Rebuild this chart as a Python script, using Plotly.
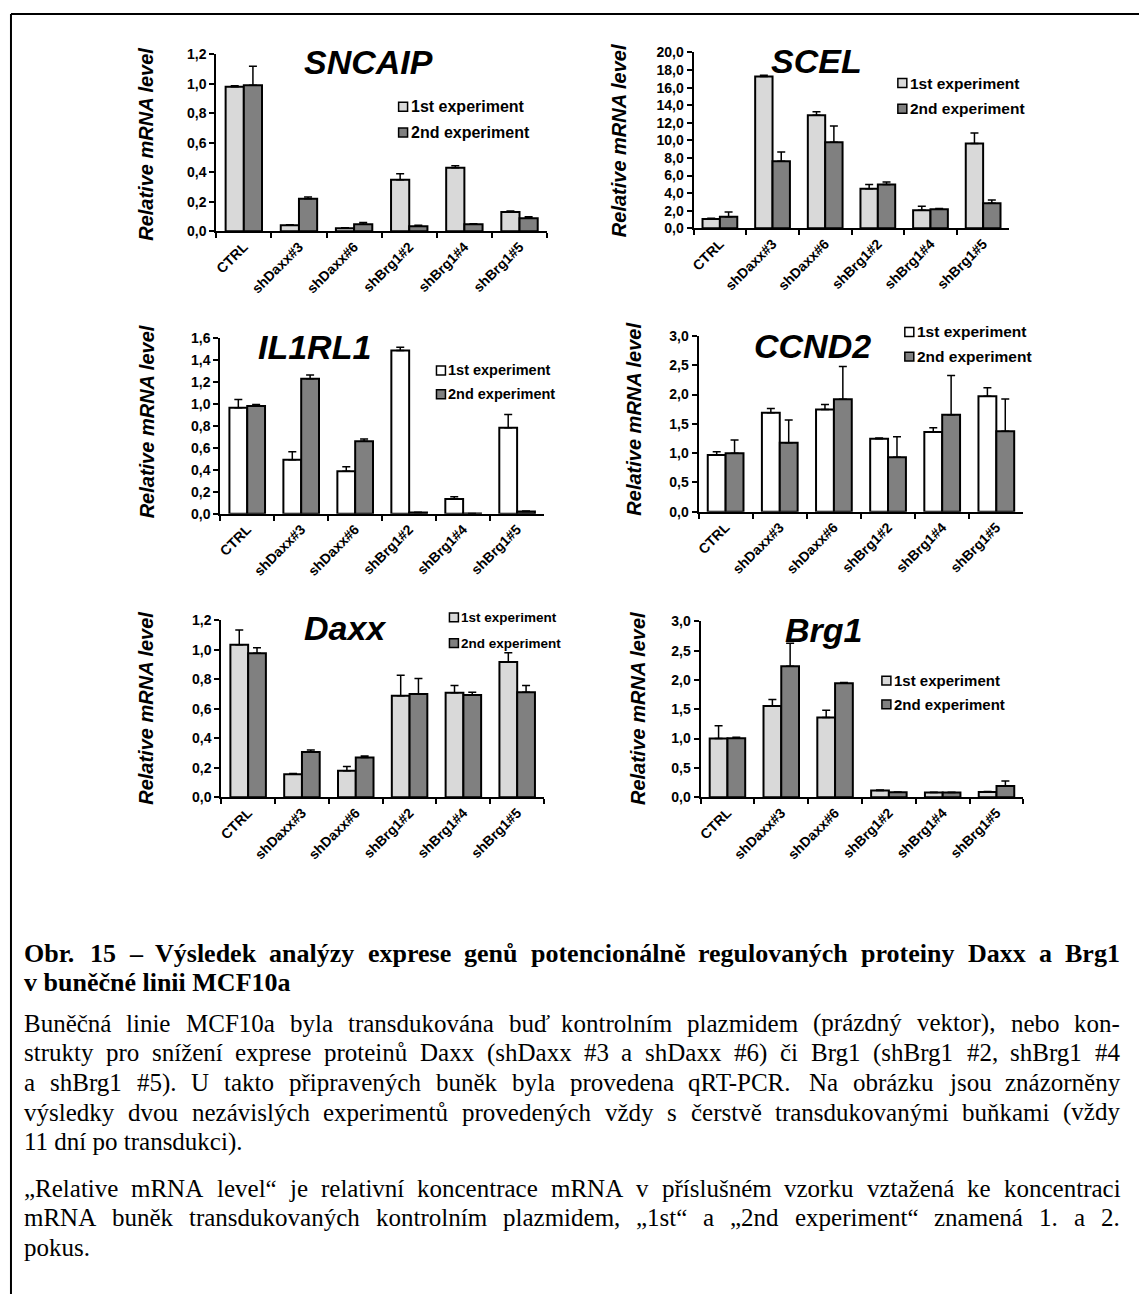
import unicodedata
import plotly.graph_objects as go

W, H = 1139, 1302

categories = ["CTRL", "shDaxx#3", "shDaxx#6", "shBrg1#2", "shBrg1#4", "shBrg1#5"]
series_names = ["1st experiment", "2nd experiment"]

# Relative mRNA levels (mean) and upper error per gene and experiment
sncaip_exp1 = [0.98, 0.04, 0.02, 0.35, 0.43, 0.13]
sncaip_exp1_err = [0.008, 0.004, 0.003, 0.04, 0.015, 0.008]
sncaip_exp2 = [0.99, 0.22, 0.047, 0.034, 0.047, 0.088]
sncaip_exp2_err = [0.13, 0.012, 0.012, 0.006, 0.003, 0.01]

scel_exp1 = [1.05, 17.27, 12.86, 4.49, 2.06, 9.64]
scel_exp1_err = [0.08, 0.15, 0.4, 0.5, 0.45, 1.2]
scel_exp2 = [1.3, 7.63, 9.79, 4.97, 2.17, 2.84]
scel_exp2_err = [0.55, 1.05, 1.85, 0.28, 0.08, 0.38]

il1rl1_exp1 = [0.965, 0.49, 0.387, 1.486, 0.135, 0.782]
il1rl1_exp1_err = [0.075, 0.075, 0.04, 0.03, 0.02, 0.12]
il1rl1_exp2 = [0.98, 1.228, 0.659, 0.012, 0.002, 0.02]
il1rl1_exp2_err = [0.015, 0.035, 0.02, 0.002, 0.0, 0.004]

ccnd2_exp1 = [0.968, 1.69, 1.745, 1.244, 1.362, 1.97]
ccnd2_exp1_err = [0.055, 0.07, 0.085, 0.015, 0.07, 0.145]
ccnd2_exp2 = [1.0, 1.176, 1.92, 0.929, 1.655, 1.373]
ccnd2_exp2_err = [0.225, 0.39, 0.56, 0.35, 0.67, 0.55]

daxx_exp1 = [1.035, 0.156, 0.179, 0.688, 0.708, 0.918]
daxx_exp1_err = [0.1, 0.005, 0.03, 0.14, 0.05, 0.063]
daxx_exp2 = [0.977, 0.306, 0.27, 0.7, 0.693, 0.713]
daxx_exp2_err = [0.038, 0.015, 0.01, 0.105, 0.02, 0.045]

brg1_exp1 = [1.0, 1.556, 1.36, 0.112, 0.079, 0.09]
brg1_exp1_err = [0.22, 0.11, 0.125, 0.01, 0.005, 0.005]
brg1_exp2 = [1.006, 2.236, 1.944, 0.084, 0.079, 0.19]
brg1_exp2_err = [0.015, 0.39, 0.015, 0.005, 0.005, 0.085]

y_axis_title = "Relative mRNA level"

caption_heading = [
    "Obr. 15 – Výsledek analýzy exprese genů potencionálně regulovaných proteiny Daxx a Brg1",
    "v buněčné linii MCF10a",
]
caption_body = [
    "Buněčná linie MCF10a byla transdukována buď kontrolním plazmidem (prázdný vektor), nebo kon-",
    "strukty pro snížení exprese proteinů Daxx (shDaxx #3 a shDaxx #6) či Brg1 (shBrg1 #2, shBrg1 #4",
    "a shBrg1 #5). U takto připravených buněk byla provedena qRT-PCR. Na obrázku jsou znázorněny",
    "výsledky dvou nezávislých experimentů provedených vždy s čerstvě transdukovanými buňkami (vždy",
    "11 dní po transdukci).",
]
caption_note = [
    "„Relative mRNA level“ je relativní koncentrace mRNA v příslušném vzorku vztažená ke koncentraci",
    "mRNA buněk transdukovaných kontrolním plazmidem, „1st“ a „2nd experiment“ znamená 1. a 2.",
    "pokus.",
]

LIGHT = "#d9d9d9"
DARK = "#808080"
WHITE = "#ffffff"
SANS = "Liberation Sans, Arial, sans-serif"
SERIF = "Liberation Serif, Times New Roman, serif"

# Times advance widths (1/1000 em) used to set justified caption lines
_upper_reg = dict(zip("ABCDEFGHIJKLMNOPQRSTUVWXYZ",
                      [722, 667, 667, 722, 611, 556, 722, 722, 333, 389, 722, 611, 889,
                       722, 722, 556, 722, 667, 556, 611, 722, 722, 944, 722, 722, 611]))
_lower_reg = dict(zip("abcdefghijklmnopqrstuvwxyz",
                      [444, 500, 444, 500, 444, 333, 500, 500, 278, 278, 500, 278, 778,
                       500, 500, 500, 500, 333, 389, 278, 500, 500, 722, 500, 500, 444]))
_upper_bold = dict(zip("ABCDEFGHIJKLMNOPQRSTUVWXYZ",
                       [722, 667, 722, 722, 667, 611, 778, 778, 389, 500, 778, 667, 944,
                        722, 778, 611, 778, 722, 556, 667, 722, 722, 1000, 722, 722, 667]))
_lower_bold = dict(zip("abcdefghijklmnopqrstuvwxyz",
                       [500, 556, 444, 556, 444, 333, 500, 556, 278, 333, 556, 278, 833,
                        556, 500, 556, 556, 444, 389, 333, 556, 500, 722, 500, 500, 444]))
_punct = {" ": 250, "#": 500, "(": 333, ")": 333, ",": 250, "-": 333, ".": 250,
          "–": 500, "„": 444, "“": 444, ":": 278}
TIMES_REG = {**_upper_reg, **_lower_reg, **_punct, **{d: 500 for d in "0123456789"}}
TIMES_BOLD = {**_upper_bold, **_lower_bold, **_punct, **{d: 500 for d in "0123456789"}}


def text_width(s, table, size):
    total = 0
    for ch in s:
        base = unicodedata.normalize("NFD", ch)[0]
        total += table.get(ch, table.get(base, 500))
    return total * size / 1000


def fx(x):
    return x / W


def fy(y):
    return 1 - y / H


# panel geometry in page pixels: plot box (left, right, top, bottom),
# gene title centre, y-title centre, legend swatch left / row centres / font size
panels = [
    dict(gene="SNCAIP", vals=[sncaip_exp1, sncaip_exp2], errs=[sncaip_exp1_err, sncaip_exp2_err],
         ymax=1.2, dtick=0.2, fill1=LIGHT, box=(213, 545, 47, 226),
         title=(366, 55), ytitle=(143, 138), legend=(396, 100, 126, 16)),
    dict(gene="SCEL", vals=[scel_exp1, scel_exp2], errs=[scel_exp1_err, scel_exp2_err],
         ymax=20, dtick=2, fill1=LIGHT, box=(692, 1009, 45, 223),
         title=(815, 54), ytitle=(618, 134), legend=(897, 76, 102, 15.5)),
    dict(gene="IL1RL1", vals=[il1rl1_exp1, il1rl1_exp2], errs=[il1rl1_exp1_err, il1rl1_exp2_err],
         ymax=1.6, dtick=0.2, fill1=WHITE, box=(217, 542, 334, 512),
         title=(312, 343), ytitle=(143, 419), legend=(434, 367, 391, 14.5)),
    dict(gene="CCND2", vals=[ccnd2_exp1, ccnd2_exp2], errs=[ccnd2_exp1_err, ccnd2_exp2_err],
         ymax=3.0, dtick=0.5, fill1=WHITE, box=(697, 1023, 332, 510),
         title=(811, 342), ytitle=(632, 416), legend=(904, 328, 353, 15.5)),
    dict(gene="Daxx", vals=[daxx_exp1, daxx_exp2], errs=[daxx_exp1_err, daxx_exp2_err],
         ymax=1.2, dtick=0.2, fill1=LIGHT, box=(218, 542, 620, 799),
         title=(343, 628), ytitle=(143, 709), legend=(447, 617, 643, 13.5)),
    dict(gene="Brg1", vals=[brg1_exp1, brg1_exp2], errs=[brg1_exp1_err, brg1_exp2_err],
         ymax=3.0, dtick=0.5, fill1=LIGHT, box=(699, 1023, 621, 799),
         title=(822, 630), ytitle=(637, 709), legend=(881, 681, 705, 15)),
]

fig = go.Figure()
annotations = []
shapes = []

for i, p in enumerate(panels, start=1):
    xa = "x" if i == 1 else f"x{i}"
    ya = "y" if i == 1 else f"y{i}"
    fills = [p["fill1"], DARK]
    for k in range(2):
        fig.add_trace(go.Bar(
            x=categories, y=p["vals"][k], name=series_names[k],
            xaxis=xa, yaxis=ya, showlegend=False,
            marker=dict(color=fills[k], line=dict(color="black", width=2)),
            error_y=dict(type="data", array=p["errs"][k], arrayminus=[0] * len(categories),
                         symmetric=False, color="black", thickness=1.5, width=4),
        ))

    x0, x1, yt, yb = p["box"]
    fig.update_layout(**{
        ("xaxis" if i == 1 else f"xaxis{i}"): dict(
            domain=[fx(x0), fx(x1)], anchor=ya, type="category",
            showline=True, linecolor="black", linewidth=2,
            showgrid=False, zeroline=False,
            ticks="outside", tickson="boundaries", ticklen=5, tickwidth=1.5, tickcolor="black",
            tickangle=-45, tickfont=dict(family=SANS, size=14, color="black", weight="bold"),
        ),
        ("yaxis" if i == 1 else f"yaxis{i}"): dict(
            domain=[fy(yb), fy(yt)], anchor=xa, range=[0, p["ymax"]],
            dtick=p["dtick"], tick0=0, tickformat=".1f",
            showline=True, linecolor="black", linewidth=2,
            showgrid=False, zeroline=False,
            ticks="outside", ticklen=5, tickwidth=1.5, tickcolor="black",
            tickfont=dict(family=SANS, size=14, color="black", weight="bold"),
        ),
    })

    # gene name
    tx, ty = p["title"]
    annotations.append(dict(
        text=p["gene"], x=fx(tx), y=fy(ty), xref="paper", yref="paper",
        xanchor="center", yanchor="middle", showarrow=False,
        font=dict(family=SANS, size=34, color="black", weight="bold", style="italic"),
    ))
    # y-axis title
    yx, yy = p["ytitle"]
    annotations.append(dict(
        text=y_axis_title, x=fx(yx), y=fy(yy), xref="paper", yref="paper",
        xanchor="center", yanchor="middle", showarrow=False, textangle=-90,
        font=dict(family=SANS, size=20, color="black", style="italic", weight="bold"),
    ))
    # legend: swatch plus series name
    lx, l1, l2, lsize = p["legend"]
    for k, ly in enumerate((l1, l2)):
        shapes.append(dict(
            type="rect", xref="paper", yref="paper",
            x0=fx(lx), x1=fx(lx + 9), y0=fy(ly + 4.5), y1=fy(ly - 4.5),
            fillcolor=fills[k], line=dict(color="black", width=1.5),
        ))
        annotations.append(dict(
            text=series_names[k], x=fx(lx + 10), y=fy(ly), xref="paper", yref="paper",
            xanchor="left", yanchor="middle", showarrow=False,
            font=dict(family=SANS, size=lsize, color="black", weight="bold"),
        ))

# caption block: justified lines are set word by word across the text width
CAP_LEFT, CAP_WIDTH = 18, 1100


def add_caption_line(line, y, size, table, bold, justify):
    words = line.split(" ")
    font = dict(family=SERIF, size=size, color="black", weight="bold" if bold else "normal")
    if not justify or len(words) == 1:
        annotations.append(dict(text=line, x=fx(CAP_LEFT), y=fy(y), xref="paper", yref="paper",
                                xanchor="left", yanchor="middle", showarrow=False, font=font))
        return
    widths = [text_width(w, table, size) for w in words]
    gap = (CAP_WIDTH - sum(widths)) / (len(words) - 1)
    x = CAP_LEFT
    for w, wd in zip(words, widths):
        annotations.append(dict(text=w, x=fx(x), y=fy(y), xref="paper", yref="paper",
                                xanchor="left", yanchor="middle", showarrow=False, font=font))
        x += wd + gap


for j, (line, ly) in enumerate(zip(caption_heading, (957, 987))):
    add_caption_line(line, ly, 26, TIMES_BOLD, True, j < len(caption_heading) - 1)
for j, (line, ly) in enumerate(zip(caption_body, (1028, 1058, 1088, 1118, 1148))):
    add_caption_line(line, ly, 25, TIMES_REG, False, j < len(caption_body) - 1)
for j, (line, ly) in enumerate(zip(caption_note, (1195, 1225, 1255))):
    add_caption_line(line, ly, 25, TIMES_REG, False, j < len(caption_note) - 1)

# frame lines along the top and left edge
shapes.append(dict(type="line", xref="paper", yref="paper",
                   x0=fx(7), x1=fx(W), y0=fy(6), y1=fy(6), line=dict(color="black", width=2)))
shapes.append(dict(type="line", xref="paper", yref="paper",
                   x0=fx(7), x1=fx(7), y0=fy(6), y1=fy(H), line=dict(color="black", width=2)))

fig.update_layout(
    width=W, height=H, margin=dict(l=0, r=0, t=0, b=0),
    paper_bgcolor="white", plot_bgcolor="rgba(0,0,0,0)",
    barmode="group", bargap=0.34, bargroupgap=0,
    separators=", ",
    showlegend=False,
    annotations=annotations, shapes=shapes,
    font=dict(family=SANS, color="black"),
)

fig.write_html("out.html")
